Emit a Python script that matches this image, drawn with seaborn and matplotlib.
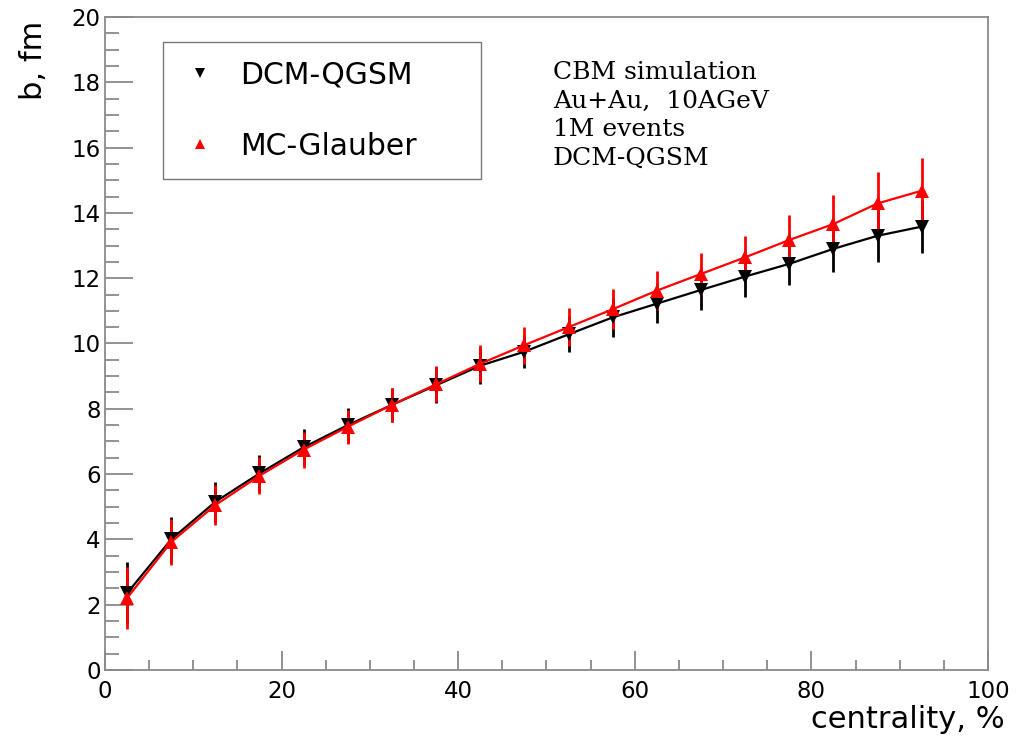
import numpy as np
import pandas as pd
import seaborn as sns
import matplotlib.pyplot as plt
from matplotlib.lines import Line2D
from matplotlib.ticker import MultipleLocator

# ----------------------------
# data
# ----------------------------
centrality = [2.5, 7.5, 12.5, 17.5, 22.5, 27.5, 32.5, 37.5, 42.5, 47.5,
              52.5, 57.5, 62.5, 67.5, 72.5, 77.5, 82.5, 87.5, 92.5]

b_dcm = [2.35, 4.0, 5.15, 6.02, 6.82, 7.5, 8.12, 8.72, 9.32, 9.75,
         10.28, 10.8, 11.22, 11.64, 12.05, 12.44, 12.9, 13.3, 13.58]
err_dcm = [0.95, 0.7, 0.62, 0.57, 0.55, 0.52, 0.52, 0.55, 0.55, 0.5,
           0.55, 0.6, 0.6, 0.62, 0.64, 0.66, 0.72, 0.8, 0.8]

b_glauber = [2.2, 3.92, 5.05, 5.95, 6.75, 7.45, 8.12, 8.75, 9.38, 9.95,
             10.5, 11.05, 11.62, 12.13, 12.64, 13.17, 13.66, 14.29, 14.68]
err_glauber = [0.95, 0.7, 0.62, 0.57, 0.55, 0.52, 0.52, 0.55, 0.56, 0.57,
               0.58, 0.62, 0.6, 0.63, 0.65, 0.77, 0.9, 0.95, 1.0]

names = ["DCM-QGSM", "MC-Glauber"]
colors = {"DCM-QGSM": "black", "MC-Glauber": "red"}
markers = {"DCM-QGSM": "v", "MC-Glauber": "^"}

info_lines = ["CBM simulation", "Au+Au,  10AGeV", "1M events", "DCM-QGSM"]

df = pd.concat([
    pd.DataFrame({"centrality": centrality, "b": b_dcm, "err": err_dcm, "model": names[0]}),
    pd.DataFrame({"centrality": centrality, "b": b_glauber, "err": err_glauber, "model": names[1]}),
])

# ----------------------------
# plot
# ----------------------------
sns.set_style("white")
plt.rcParams["font.family"] = ["DejaVu Sans"]
plt.rcParams["text.color"] = "black"
plt.rcParams["axes.labelcolor"] = "black"

fig = plt.figure(figsize=(10.21, 7.45), dpi=100)
ax = fig.add_axes([0.1028, 0.1007, 0.8649, 0.8765])

for name in names:
    sub = df[df["model"] == name]
    ax.errorbar(sub["centrality"], sub["b"], yerr=sub["err"], fmt="none",
                ecolor=colors[name], elinewidth=2.0, capsize=0, zorder=2)
    sns.lineplot(data=sub, x="centrality", y="b", color=colors[name],
                 marker=markers[name], markersize=10, markeredgewidth=0,
                 linewidth=1.6, ax=ax, zorder=3)

ax.set_xlim(0, 100)
ax.set_ylim(0, 20)
ax.xaxis.set_major_locator(MultipleLocator(20))
ax.xaxis.set_minor_locator(MultipleLocator(5))
ax.yaxis.set_major_locator(MultipleLocator(2))
ax.yaxis.set_minor_locator(MultipleLocator(0.5))

frame_grey = "#8a8a8a"
for sp in ax.spines.values():
    sp.set_color(frame_grey)
    sp.set_linewidth(1.3)
ax.tick_params(axis="both", which="both", direction="in", color=frame_grey,
               width=1.3, top=False, right=False, bottom=True, left=True,
               labelsize=16.5, labelcolor="black")
ax.tick_params(axis="x", which="major", length=14, pad=7)
ax.tick_params(axis="x", which="minor", length=7)
ax.tick_params(axis="y", which="major", length=20, pad=3)
ax.tick_params(axis="y", which="minor", length=10)

ax.set_xlabel("centrality, %", fontsize=22, loc="right")
ax.set_ylabel("b, fm", fontsize=22, loc="top")
ax.xaxis.set_label_coords(1.019, -0.053)
ax.yaxis.set_label_coords(-0.065, 0.995)

handles = [Line2D([], [], linestyle="none", marker=markers[n], color=colors[n],
                  markersize=7, markeredgewidth=0) for n in names]
leg = ax.legend(handles, names, loc="upper left", mode="expand",
                bbox_to_anchor=(0.066, 0.962, 0.36, 0.0), fontsize=21.5,
                frameon=True, fancybox=False, borderpad=0.62, labelspacing=1.42,
                handlelength=1.25, handletextpad=0.7, borderaxespad=0)
leg.get_frame().set_edgecolor("#555555")
leg.get_frame().set_linewidth(1.0)
for t in leg.get_texts():
    t.set_color("black")

ax.text(0.507, 0.933, "\n".join(info_lines), transform=ax.transAxes,
        ha="left", va="top", fontsize=18, family="DejaVu Serif",
        linespacing=1.32, color="black")

fig.savefig("out.png", dpi=100)
